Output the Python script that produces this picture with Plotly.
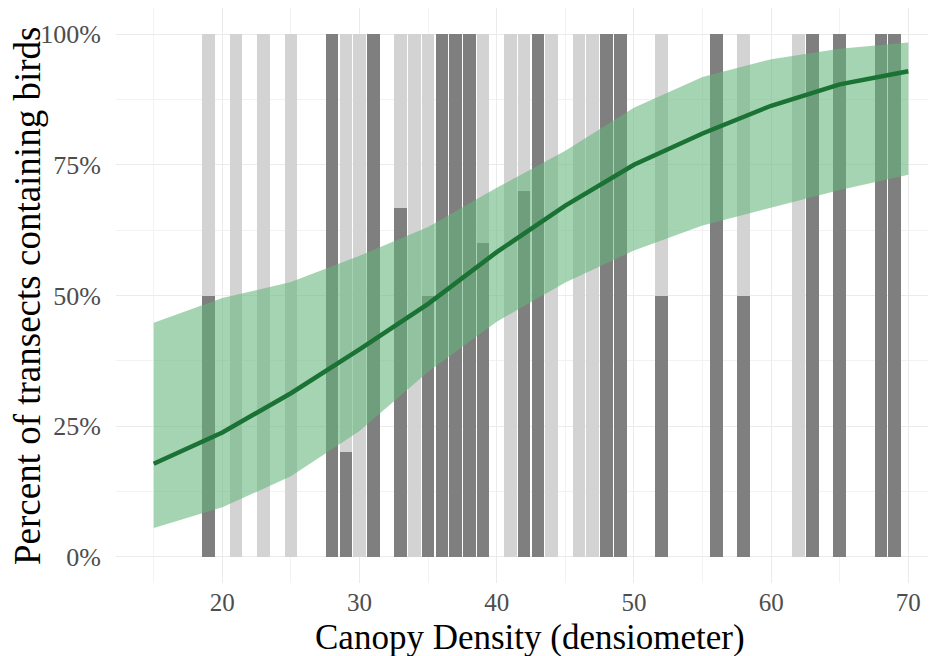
import plotly.graph_objects as go

# Bars: canopy density values and share of transects containing birds
bar_x = [19, 21, 23, 25, 28, 29, 30, 31, 33, 34, 35, 36, 37, 38, 39, 41, 42,
         43, 44, 46, 47, 48, 49, 52, 56, 58, 62, 63, 65, 68, 69]
bar_p = [0.5, 0, 0, 0, 1, 0.2, 0, 1, 0.667, 0, 0.5, 1, 1, 1, 0.6, 0, 0.7,
         1, 0, 0, 0, 1, 1, 0.5, 1, 0.5, 0, 1, 1, 1, 1]
bar_rest = [1 - v for v in bar_p]

# Fitted curve and confidence band (percent)
fit_x = [15, 20, 25, 30, 35, 40, 45, 50, 55, 60, 65, 70]
fit_y = [17.8, 23.8, 31.3, 39.7, 48.4, 58.3, 67.2, 75.0, 81.0, 86.3, 90.4, 92.9]
fit_lo = [5.5, 9.5, 15.4, 24.1, 35.4, 45.0, 52.5, 58.6, 63.4, 66.8, 70.2, 73.1]
fit_hi = [44.8, 49.5, 52.6, 57.6, 63.1, 70.6, 77.7, 85.9, 91.8, 95.2, 97.2, 98.4]

y_ticks = [0, 0.25, 0.5, 0.75, 1.0]
y_labels = ["0%", "25%", "50%", "75%", "100%"]
x_ticks = [20, 30, 40, 50, 60, 70]

FONT = "Liberation Serif"
# page body has an 8px margin, so the figure itself starts at (8, 8)
OFF = 8
L, R, T, B = 116 - OFF, 0, 8 - OFF, 656 + OFF - 583
W, H = 936, 656
PW, PH = W - L - R, H - T - B

fig = go.Figure()
fig.add_trace(go.Bar(x=bar_x, y=bar_p, width=0.92, marker=dict(color="#7f7f7f", line=dict(width=0)),
                     showlegend=False, hoverinfo="skip"))
fig.add_trace(go.Bar(x=bar_x, y=bar_rest, width=0.92, marker=dict(color="#d3d3d3", line=dict(width=0)),
                     showlegend=False, hoverinfo="skip"))

fig.add_trace(go.Scatter(x=fit_x, y=[v / 100 for v in fit_lo], mode="lines",
                         line=dict(width=0), showlegend=False, hoverinfo="skip"))
fig.add_trace(go.Scatter(x=fit_x, y=[v / 100 for v in fit_hi], mode="lines",
                         line=dict(width=0), fill="tonexty",
                         fillcolor="rgba(100,181,122,0.58)", showlegend=False, hoverinfo="skip"))
fig.add_trace(go.Scatter(x=fit_x, y=[v / 100 for v in fit_y], mode="lines",
                         line=dict(color="#1a7234", width=4.5), showlegend=False))

fig.update_layout(
    width=W, height=H,
    margin=dict(l=L, r=R, t=T, b=B, autoexpand=False),
    barmode="stack", bargap=0,
    plot_bgcolor="white", paper_bgcolor="white",
    font=dict(family=FONT, color="#4d4d4d", size=25),
    xaxis=dict(range=[12.25, 12.25 + PW / 13.72], tickvals=x_ticks, ticktext=[str(v) for v in x_ticks],
               automargin=False,
               showgrid=True, gridcolor="#ebebeb", gridwidth=1.2,
               minor=dict(tickvals=[15, 25, 35, 45, 55, 65, 75], showgrid=True, gridcolor="#f2f2f2", gridwidth=0.8),
               zeroline=False, showline=False, ticks="", ticklabelstandoff=2,
               tickfont=dict(family=FONT, size=25, color="#4d4d4d")),
    yaxis=dict(range=[-0.05, 1.05], tickvals=y_ticks, ticktext=y_labels,
               automargin=False,
               showgrid=True, gridcolor="#ebebeb", gridwidth=1.2,
               minor=dict(tickvals=[0.125, 0.375, 0.625, 0.875], showgrid=True, gridcolor="#f2f2f2", gridwidth=0.8),
               zeroline=False, showline=False, ticks="", ticklabelstandoff=14,
               tickfont=dict(family=FONT, size=26, color="#4d4d4d")),
    annotations=[
        dict(text="Canopy Density (densiometer)", xref="paper", yref="paper",
             x=(530 - OFF - L) / PW, y=-(637 - OFF - (T + PH)) / PH, xanchor="center", yanchor="middle",
             showarrow=False, font=dict(family=FONT, size=35, color="black")),
        dict(text="Percent of transects containing birds", xref="paper", yref="paper",
             x=-(L - (27 - OFF)) / PW, y=((T + PH) - (296 - OFF)) / PH, xanchor="center", yanchor="middle",
             textangle=-90, showarrow=False, font=dict(family=FONT, size=37, color="black")),
    ],
)

fig.write_html("out.html")
